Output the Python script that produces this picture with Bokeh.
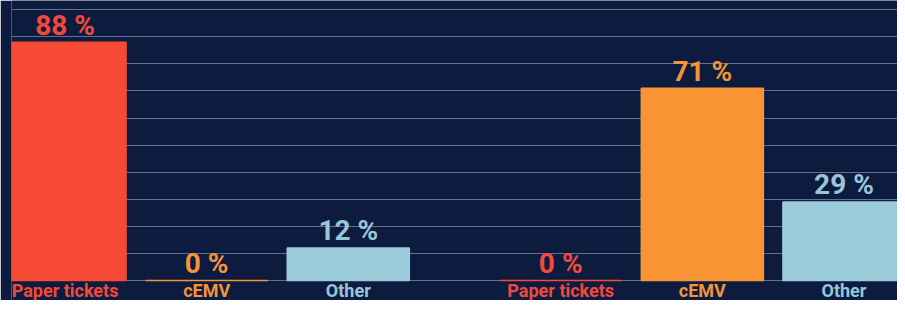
from bokeh.plotting import figure
from bokeh.models import ColumnDataSource, FactorRange, Range1d, SingleIntervalTicker
from bokeh.core.properties import value
from bokeh.embed import file_html
from bokeh.resources import INLINE

# ---- data ----
groups = ["Group A", "Group B"]
categories = ["Paper tickets", "cEMV", "Other"]
group_a_values = [88, 0, 12]
group_b_values = [0, 71, 29]
category_colors = ["#f64a35", "#f89434", "#9acbd8"]
label_colors = ["#f2493a", "#f59436", "#98c6d6"]

BG = "#0d1b3f"
GRID = "#62708f"

factors = [(g, c) for g in groups for c in categories]
vals = group_a_values + group_b_values
bar_colors = category_colors * len(groups)
lab_colors = label_colors * len(groups)
value_texts = [f"{v} %" for v in vals]

src = ColumnDataSource(dict(x=factors, top=vals, color=bar_colors,
                            lcolor=lab_colors, vtext=value_texts,
                            cat=[c for g in groups for c in categories]))

x_range = FactorRange(factors=factors, group_padding=0.5, factor_padding=0.0,
                      range_padding=-0.122, range_padding_units="absolute")
# 100 -> ~9px from top, 0 -> ~280px from top
y_range = Range1d(-7.43, 103.42)

p = figure(width=897, height=300, x_range=x_range, y_range=y_range,
           output_backend="svg", toolbar_location=None,
           min_border_left=11, min_border_right=0, min_border_top=0, min_border_bottom=0)
p.background_fill_color = BG
p.border_fill_color = BG
p.outline_line_color = None

p.xaxis.visible = False
p.yaxis.visible = False
p.xgrid.visible = False
tick = SingleIntervalTicker(interval=10)
p.yaxis.ticker = tick
p.ygrid.ticker = tick
p.ygrid.grid_line_color = GRID
p.ygrid.grid_line_width = 1

p.vbar(x="x", top="top", bottom=0, width=0.862, source=src,
       fill_color="color", line_color="color", line_width=1.5)

p.text(x="x", y="top", text="vtext", source=src, text_color="lcolor",
       text_font=value("Roboto"), text_font_style="bold", text_font_size="28px",
       text_align="center", text_baseline="middle", y_offset=-17)

p.text(x="x", y=-3.85, text="cat", source=src, text_color="lcolor",
       text_font=value("Roboto"), text_font_style="bold", text_font_size="18px",
       text_align="center", text_baseline="middle")

open("out.html", "w").write(file_html(p, INLINE))
